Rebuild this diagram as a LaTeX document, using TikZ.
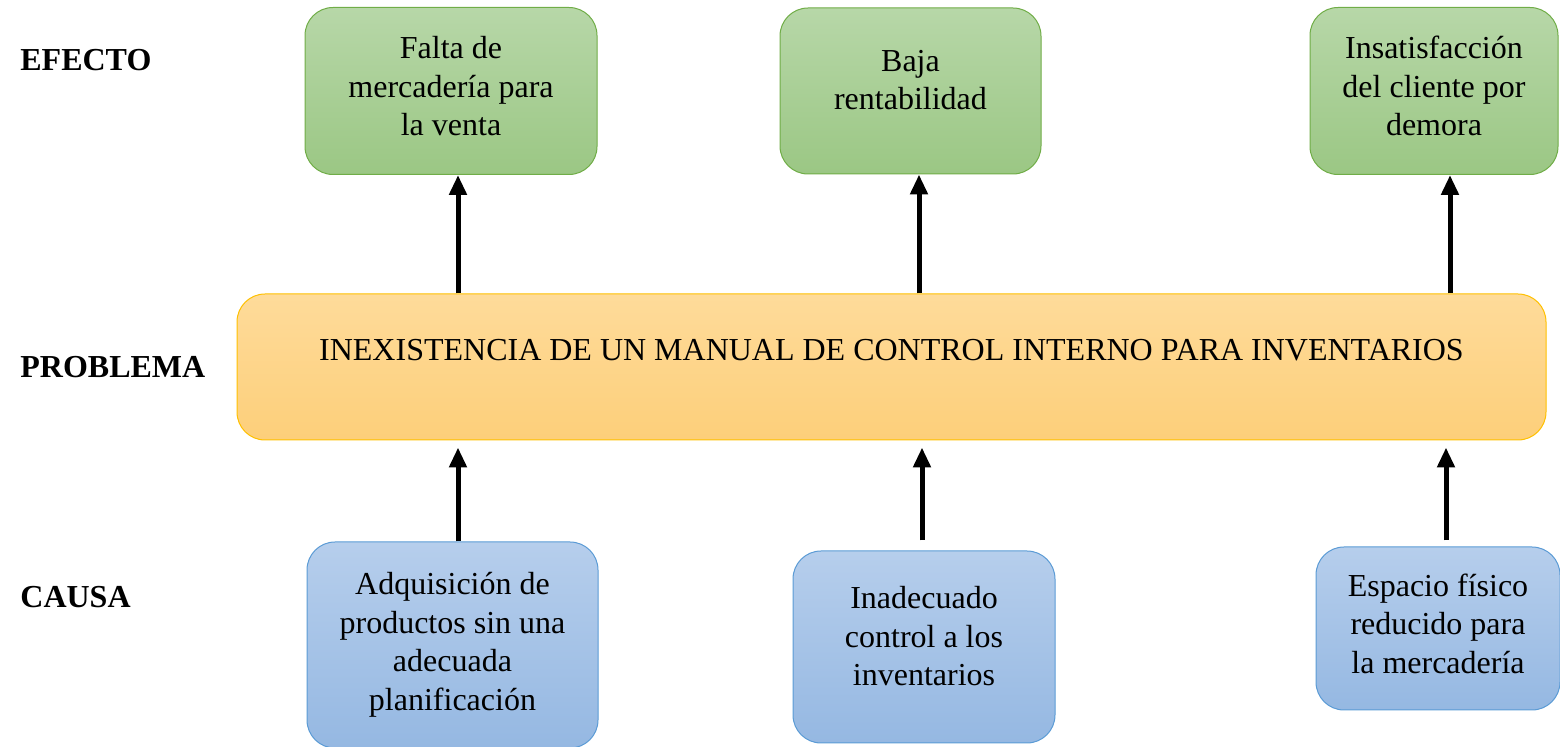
\documentclass[tikz,border=0pt]{standalone}
\usepackage{fontspec}
\setmainfont{Liberation Serif}
\usetikzlibrary{arrows.meta}
\definecolor{verdeA}{RGB}{183,215,168}
\definecolor{verdeB}{RGB}{155,199,132}
\definecolor{verdeL}{RGB}{112,173,71}
\definecolor{amarA}{RGB}{254,219,154}
\definecolor{amarB}{RGB}{253,207,122}
\definecolor{amarL}{RGB}{255,192,0}
\definecolor{azulA}{RGB}{182,206,236}
\definecolor{azulB}{RGB}{149,184,226}
\definecolor{azulL}{RGB}{91,155,213}
\tikzset{
    >={Triangle[length=10pt,width=8.5pt]},
    flecha/.style={->, line width=2.5pt},
    caja/.style={rounded corners=14pt, line width=0.5pt, align=center,
        font=\fontsize{16pt}{19.25pt}\selectfont},
    efecto/.style={caja, draw=verdeL, top color=verdeA, bottom color=verdeB},
    problema/.style={caja, draw=amarL, top color=amarA, bottom color=amarB},
    causa/.style={caja, draw=azulL, top color=azulA, bottom color=azulB},
    nivel/.style={anchor=west, inner sep=0pt, font=\fontsize{16pt}{19.25pt}\selectfont\bfseries},
}

\begin{document}
\begin{tikzpicture}[x=0.5pt,y=-0.5pt]
   \useasboundingbox (0,0) rectangle (1560,747);
   % niveles
   \node[nivel] (l_e) at (20,60) {EFECTO};
   \node[nivel] (l_p) at (20,367) {PROBLEMA};
   \node[nivel] (l_c) at (20,597) {CAUSA};
   % efectos
   \node[efecto, minimum width=146pt, minimum height=83.5pt, text depth=5pt] (e_1) at (451,91) {Falta de\\mercadería para\\la venta};
   \node[efecto, minimum width=130.5pt, minimum height=83pt, text depth=11pt] (e_2) at (910.5,91) {Baja\\rentabilidad};
   \node[efecto, minimum width=124pt, minimum height=83.5pt, text depth=5pt] (e_3) at (1434,91) {Insatisfacción\\del cliente por\\demora};
   % problema
   \node[problema, minimum width=654.5pt, minimum height=73pt, text depth=17pt] (p) at (891.5,367) {INEXISTENCIA DE UN MANUAL DE CONTROL INTERNO PARA INVENTARIOS};
   % causas
   \node[causa, minimum width=145.5pt, minimum height=103pt] (c_1) at (452.5,645) {Adquisición de\\productos sin una\\adecuada\\planificación};
   \node[causa, minimum width=131pt, minimum height=96pt, text depth=11pt] (c_2) at (924,647) {Inadecuado\\control a los\\inventarios};
   \node[causa, minimum width=122pt, minimum height=81.5pt, text depth=5pt] (c_3) at (1438,628.5) {Espacio físico\\reducido para\\la mercadería};
   % columnas de las flechas
   \coordinate (x_1) at (458,0);
   \coordinate (x_2) at (919,0);
   \coordinate (x_3) at (1450,0);
   \coordinate (x_4) at (458,0);
   \coordinate (x_5) at (922,0);
   \coordinate (x_6) at (1446,0);
   \draw[flecha] (p.north -| x_1) -- (e_1.south -| x_1);
   \draw[flecha] (p.north -| x_2) -- (e_2.south -| x_2);
   \draw[flecha] (p.north -| x_3) -- (e_3.south -| x_3);
   \draw[flecha] (c_1.north -| x_4) -- ([yshift=-3.5pt]p.south -| x_4);
   \draw[flecha] ([yshift=5pt]c_2.north -| x_5) -- ([yshift=-3.5pt]p.south -| x_5);
   \draw[flecha] ([yshift=3pt]c_3.north -| x_6) -- ([yshift=-3.5pt]p.south -| x_6);
\end{tikzpicture}
\end{document}
